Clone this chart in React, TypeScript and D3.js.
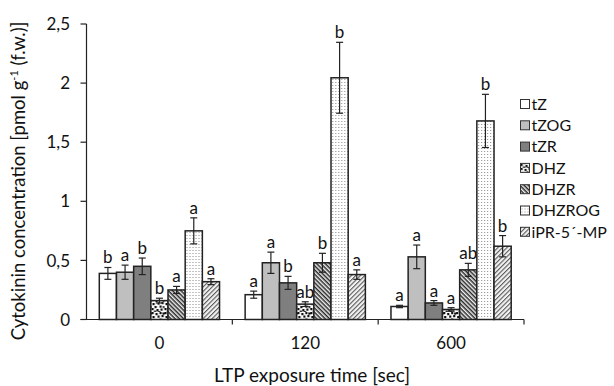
import React from "react";
import * as d3 from "d3";

const categories = ["0", "120", "600"];
const series = ["tZ", "tZOG", "tZR", "DHZ", "DHZR", "DHZROG", "iPR-5´-MP"];
const values = [
  [0.39, 0.40, 0.45, 0.16, 0.25, 0.75, 0.32],
  [0.21, 0.48, 0.31, 0.13, 0.48, 2.045, 0.38],
  [0.11, 0.53, 0.14, 0.085, 0.42, 1.68, 0.62],
];
const errors = [
  [0.05, 0.06, 0.07, 0.02, 0.03, 0.11, 0.025],
  [0.03, 0.09, 0.055, 0.02, 0.08, 0.30, 0.04],
  [0.01, 0.10, 0.02, 0.015, 0.055, 0.225, 0.09],
];
const letters = [
  ["b", "a", "b", "b", "a", "a", "a"],
  ["a", "a", "b", "ab", "b", "b", "a"],
  ["a", "a", "a", "a", "ab", "b", "b"],
];
const yTicks = [0, 0.5, 1, 1.5, 2, 2.5];
const fills = ["#ffffff", "#bfbfbf", "#7f7f7f", "url(#pDHZ)", "url(#pDHZR)", "url(#pDHZROG)", "url(#pIPR)"];

const W = 614, H = 386;
const left = 86.5, right = 524, top = 24, bottom = 319.5;
const FONT = "Lato, 'Open Sans', sans-serif";

// irregular blob positions for the DHZ (confetti) pattern tile
const confetti = [
  [0, 0], [4, 1], [8, 0], [1, 4], [6, 3.5], [10, 3], [3, 7], [8, 6.5], [0, 9],
  [5, 10], [9, 9.5], [11, 0.5], [2.5, 11.5], [11.5, 7], [6.5, 12],
];

export default function App() {
  const x0 = d3.scaleBand().domain(categories).range([left, right]).paddingInner(0).paddingOuter(0);
  const x1 = d3.scaleBand().domain(series).range([12.8, x0.bandwidth() - 12.8]).padding(0);
  const y = d3.scaleLinear().domain([0, 2.5]).range([bottom, top]);
  const fmt = (v: number) => String(v).replace(".", ",");

  return (
    <svg width={W} height={H} style={{ position: "absolute", left: 0, top: 0, fontFamily: FONT }}>
      <defs>
        <pattern id="pDHZ" width="13" height="13" patternUnits="userSpaceOnUse">
          <rect width="13" height="13" fill="#fff" />
          {confetti.map(([cx, cy], i) => (
            <rect key={i} x={cx} y={cy} width="2.2" height="2.2" fill="#111" />
          ))}
        </pattern>
        <pattern id="pDHZR" width="3" height="3" patternUnits="userSpaceOnUse" patternTransform="rotate(45)">
          <rect width="3" height="3" fill="#eeeeee" />
          <rect width="3" height="1.5" fill="#2a2a2a" />
        </pattern>
        <pattern id="pDHZROG" width="3" height="3" patternUnits="userSpaceOnUse">
          <rect width="3" height="3" fill="#fff" />
          <rect x="1" y="1" width="1" height="1" fill="#8a8a8a" />
        </pattern>
        <pattern id="pIPR" width="3.2" height="3.2" patternUnits="userSpaceOnUse" patternTransform="rotate(-45)">
          <rect width="3.2" height="3.2" fill="#f2f2f2" />
          <rect width="3.2" height="1.1" fill="#5a5a5a" />
        </pattern>
      </defs>

      {/* bars */}
      {categories.map((c, ci) => (
        <g key={c} transform={`translate(${x0(c)},0)`}>
          {series.map((s, si) => {
            const v = values[ci][si];
            const e = errors[ci][si];
            const bx = x1(s)!;
            const bw = x1.bandwidth();
            const cx = bx + bw / 2;
            const lo = y(Math.max(0, v - e));
            const hi = y(v + e);
            return (
              <g key={s}>
                <rect x={bx} y={y(v)} width={bw} height={y(0) - y(v)} fill={fills[si]} stroke="#222" strokeWidth={1.5} />
                <line x1={cx} x2={cx} y1={hi} y2={lo} stroke="#222" strokeWidth={1.2} />
                <line x1={cx - 3.5} x2={cx + 3.5} y1={hi} y2={hi} stroke="#222" strokeWidth={1.2} />
                <line x1={cx - 3.5} x2={cx + 3.5} y1={lo} y2={lo} stroke="#222" strokeWidth={1.2} />
                <text x={cx} y={hi - 4} textAnchor="middle" fontSize={17} fill="#111">{letters[ci][si]}</text>
              </g>
            );
          })}
        </g>
      ))}

      {/* y axis */}
      <line x1={left} x2={left} y1={top} y2={bottom} stroke="#222" strokeWidth={1.2} />
      {yTicks.map((t) => (
        <g key={t}>
          <line x1={left - 6} x2={left} y1={y(t)} y2={y(t)} stroke="#222" strokeWidth={1.2} />
          <text x={70} y={y(t)} dy="0.36em" textAnchor="end" fontSize={17} fill="#111">{fmt(t)}</text>
        </g>
      ))}
      {/* x axis */}
      <line x1={left - 6} x2={right} y1={bottom} y2={bottom} stroke="#222" strokeWidth={1.2} />
      {categories.map((c, i) => (
        <g key={c}>
          {i > 0 && <line x1={x0(c)} x2={x0(c)} y1={bottom} y2={bottom + 5} stroke="#222" strokeWidth={1.2} />}
          <text x={x0(c)! + x0.bandwidth() / 2} y={349} textAnchor="middle" fontSize={17} fill="#111">{c}</text>
        </g>
      ))}
      <line x1={right} x2={right} y1={bottom} y2={bottom + 5} stroke="#222" strokeWidth={1.2} />

      <text x={312} y={382} textAnchor="middle" fontSize={19} fill="#111">LTP exposure time [sec]</text>
      <text transform="translate(19,181) rotate(-90)" dy="0.35em" textAnchor="middle" fontSize={18.5} fill="#111">
        Cytokinin concentration [pmol g<tspan dy="-7" fontSize={11}>-1</tspan><tspan dy="7"> (f.w.)]</tspan>
      </text>

      {/* legend */}
      {series.map((s, i) => (
        <g key={s} transform={`translate(520.5,${104 + i * 21.3})`}>
          <rect x={0} y={-4.5} width={9} height={9} fill={fills[i]} stroke="#333" strokeWidth={1} />
          <text x={11} y={0} dy="0.36em" fontSize={16} fill="#111">{s}</text>
        </g>
      ))}
    </svg>
  );
}
